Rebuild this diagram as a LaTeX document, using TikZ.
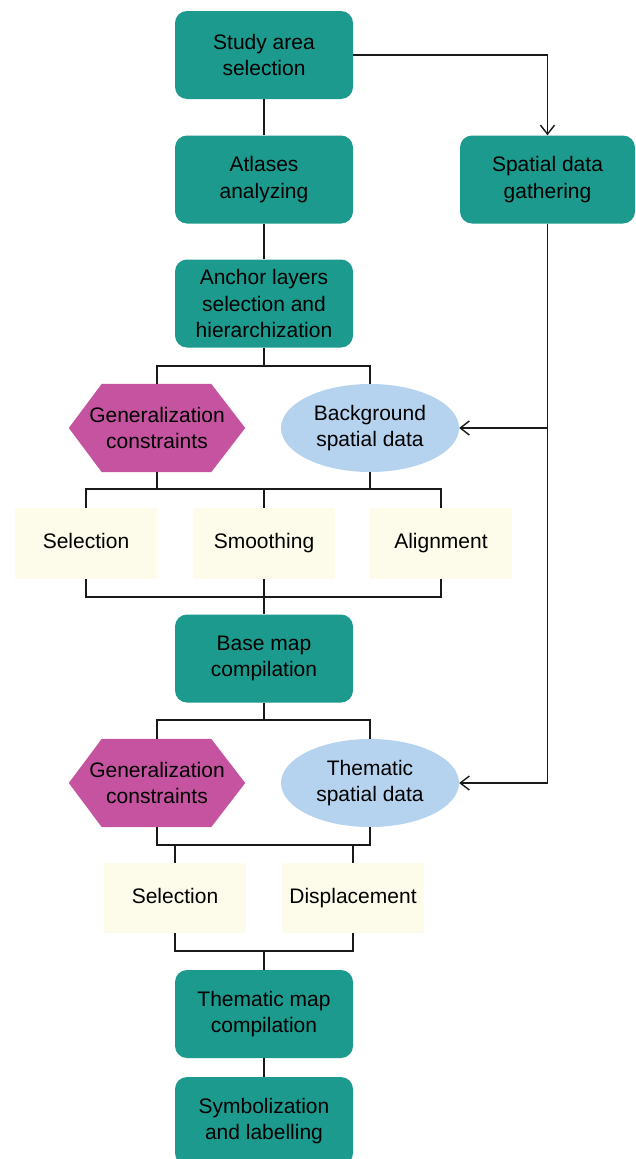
\documentclass[tikz,border=0pt]{standalone}
\usepackage{fontspec}
\setmainfont{Liberation Sans}
\usetikzlibrary{arrows.meta,shapes.geometric,backgrounds}
\definecolor{teal1}{RGB}{27,154,141}
\definecolor{hexcol}{RGB}{197,83,159}
\definecolor{ellcol}{RGB}{181,211,238}
\definecolor{creamcol}{RGB}{253,251,233}
\begin{document}
\begin{tikzpicture}[x=1pt,y=-1pt,
  every node/.style={font=\fontsize{21}{26.5}\selectfont, align=center, inner sep=0pt, text=black},
  proc/.style={rectangle, rounded corners=12pt, fill=teal1, minimum width=178pt, minimum height=88pt},
  hexnode/.style={rectangle, minimum width=176pt, minimum height=88pt},
  datanode/.style={ellipse, fill=ellcol, minimum width=178pt, minimum height=88pt},
  opbox/.style={rectangle, fill=creamcol, minimum width=142pt, minimum height=71pt, text height=15pt, text depth=4.5pt},
  conn/.style={line width=1.5pt, draw=black!90},
  arr/.style={conn, -{Straight Barb[length=9pt,width=14pt,line width=1.4pt]}}
]
\useasboundingbox (0,0) rectangle (635,1159);

\node[proc] (study) at (264,55) {Study area\\selection};
\node[proc] (atlas) at (264,179.5) {Atlases\\analyzing};
\node[proc, minimum width=175pt] (spatial) at (547.5,179.5) {Spatial data\\gathering};
\node[proc] (anchor) at (264,303.5) {Anchor layers\\selection and\\hierarchization};

\node[hexnode] (hexa) at (157,428) {Generalization\\constraints};
\node[datanode] (ella) at (370,428) {Background\\spatial data};

\node[opbox] (sela) at (86,543.5) {Selection};
\node[opbox] (smooth) at (264,543.5) {Smoothing};
\node[opbox] (align) at (441,543.5) {Alignment};

\node[proc] (base) at (264,658.5) {Base map\\compilation};

\node[hexnode] (hexb) at (157,783) {Generalization\\constraints};
\node[datanode] (ellb) at (370,783) {Thematic\\spatial data};

\node[opbox, minimum height=70pt] (selb) at (175,898) {Selection};
\node[opbox, minimum height=70pt] (disp) at (353,898) {Displacement};

\node[proc] (thematic) at (264,1014) {Thematic map\\compilation};
\node[proc] (symbol) at (264,1121) {Symbolization\\and labelling};

\begin{scope}[on background layer]
  \foreach \h in {hexa,hexb}{
    \fill[hexcol] (\h.west) -- ([xshift=33pt]\h.north west) -- ([xshift=-34pt]\h.north east)
      -- (\h.east) -- ([xshift=-34pt]\h.south east) -- ([xshift=33pt]\h.south west) -- cycle;
  }
\end{scope}

% connectors
\draw[conn] (study) -- (atlas);
\draw[arr] (study.east) -| (spatial.north);
\draw[conn] (atlas) -- (anchor);

\coordinate (ba) at (264,366);
\draw[conn] (anchor.south) -- (ba);
\draw[conn] (hexa.north) |- (ba) -| (ella.north);

\draw[arr] (spatial.south) |- (ellb.east);
\draw[arr] (spatial.south |- ella.east) -- (ella.east);

\coordinate (ja) at (264,489);
\draw[conn] (hexa.south) -- (hexa.south |- ja);
\draw[conn] (ella.south) -- (ella.south |- ja);
\draw[conn] (sela.north) |- (ja) -| (align.north);
\draw[conn] (smooth.north) -- (ja);

\coordinate (jb) at (264,597);
\draw[conn] (sela.south) |- (jb) -| (align.south);
\draw[conn] (smooth.south) -- (base.north);

\coordinate (bb) at (264,720);
\draw[conn] (base.south) -- (bb);
\draw[conn] (hexb.north) |- (bb) -| (ellb.north);

\coordinate (jc) at (264,845);
\draw[conn] (hexb.south) |- (jc) -| (ellb.south);
\draw[conn] (selb.north) -- (selb.north |- jc);
\draw[conn] (disp.north) -- (disp.north |- jc);

\coordinate (jd) at (264,951);
\draw[conn] (selb.south) |- (jd) -| (disp.south);
\draw[conn] (jd) -- (thematic.north);
\draw[conn] (thematic) -- (symbol);
\end{tikzpicture}
\end{document}
